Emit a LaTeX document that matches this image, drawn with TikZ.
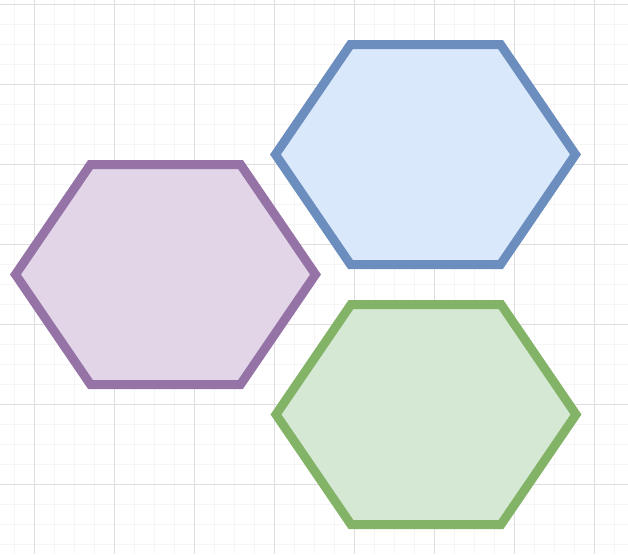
\documentclass[tikz,border=0pt]{standalone}
\usepackage{tikz}
\usetikzlibrary{calc}
\definecolor{gridminor}{RGB}{245,245,245}
\definecolor{gridmajor}{RGB}{222,222,222}
\definecolor{blueline}{HTML}{6C8EBF}
\definecolor{bluefill}{HTML}{DAE8FC}
\definecolor{purpleline}{HTML}{9673A6}
\definecolor{purplefill}{HTML}{E1D5E7}
\definecolor{greenline}{HTML}{82B366}
\definecolor{greenfill}{HTML}{D5E8D4}
\tikzset{
  hexcell/.style={line width=9pt, line join=miter},
}
% hexagon centred at #1, line colour #2, fill colour #3
\newcommand{\hexcell}[3]{%
  \draw[hexcell, draw=#2, fill=#3]
    ($#1+(-75,110)$) -- ($#1+(75,110)$) -- ($#1+(150,0)$) --
    ($#1+(75,-110)$) -- ($#1+(-75,-110)$) -- ($#1+(-150,0)$) -- cycle;}

\begin{document}
\begin{tikzpicture}[x=1pt, y=1pt]
  \useasboundingbox (0,0) rectangle (628,-554);
  \fill[white] (0,0) rectangle (628,-554);

  % grid
  \foreach \gx in {14,34,...,628}
    \draw[gridminor, line width=1pt] (\gx,0) -- (\gx,-554);
  \foreach \gy in {4,24,...,554}
    \draw[gridminor, line width=1pt] (0,-\gy) -- (628,-\gy);
  \foreach \gx in {34,114,...,628}
    \draw[gridmajor, line width=1pt] (\gx,0) -- (\gx,-554);
  \foreach \gy in {4,84,...,554}
    \draw[gridmajor, line width=1pt] (0,-\gy) -- (628,-\gy);

  % hexagons
  \coordinate (top) at (425.5,-154.5);
  \coordinate (left) at (165.5,-274.5);
  \coordinate (bottom) at (426,-414.5);
  \hexcell{(top)}{blueline}{bluefill}
  \hexcell{(left)}{purpleline}{purplefill}
  \hexcell{(bottom)}{greenline}{greenfill}
\end{tikzpicture}
\end{document}
